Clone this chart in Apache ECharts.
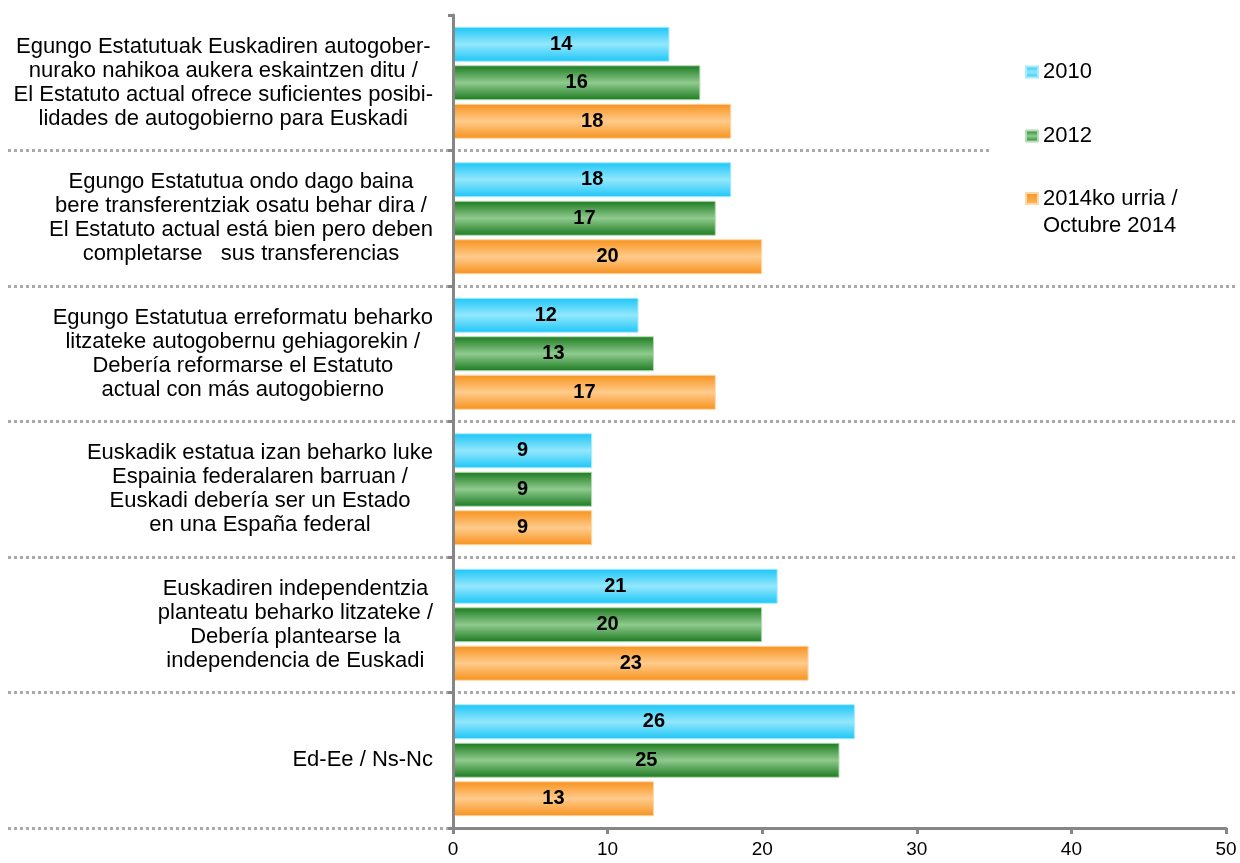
<!DOCTYPE html>
<html><head><meta charset="utf-8">
<script src="https://cdn.jsdelivr.net/npm/echarts@6/dist/echarts.min.js"></script>
<style>html,body{margin:0;padding:0;background:#fff}#c{width:1240px;height:863px}</style>
</head><body><div id="c"></div>
<script>
const categories = [
  "Egungo Estatutuak Euskadiren autogober-\nnurako nahikoa aukera eskaintzen ditu /\nEl Estatuto actual ofrece suficientes posibi-\nlidades de autogobierno para Euskadi",
  "Egungo Estatutua ondo dago baina\nbere transferentziak osatu behar dira /\nEl Estatuto actual está bien pero deben\ncompletarse   sus transferencias",
  "Egungo Estatutua erreformatu beharko\nlitzateke autogobernu gehiagorekin /\nDebería reformarse el Estatuto\nactual con más autogobierno",
  "Euskadik estatua izan beharko luke\nEspainia federalaren barruan /\nEuskadi debería ser un Estado\nen una España federal",
  "Euskadiren independentzia\nplanteatu beharko litzateke /\nDebería plantearse la\nindependencia de Euskadi",
  "Ed-Ee / Ns-Nc"
];
const seriesNames = ["2010", "2012", "2014ko urria /\nOctubre 2014"];
const values2010 = [14, 18, 12, 9, 21, 26];
const values2012 = [16, 17, 13, 9, 20, 25];
const values2014 = [18, 20, 17, 9, 23, 13];
const xMin = 0, xMax = 50, xStep = 10;

const FONT = "'Liberation Sans', Arial, sans-serif";
const AX = '#868686';
function grad(edge, mid) {
  return new echarts.graphic.LinearGradient(0, 0, 0, 1, [
    {offset: 0, color: edge}, {offset: 0.5, color: mid}, {offset: 1, color: edge}
  ]);
}
const styles = [
  {color: grad('#1cc6f7', '#93e7fd'), borderColor: '#a8ecfd'},
  {color: grad('#1b7a1f', '#8fca8e'), borderColor: '#b5dcb4'},
  {color: grad('#f7921c', '#ffcb8c'), borderColor: '#ffd7a8'}
];
const allValues = [values2010, values2012, values2014];
const dotted = {color: '#a9a9a9', width: 3, type: [3, 3]};

const chart = echarts.init(document.getElementById('c'), null, {renderer: 'canvas'});
chart.setOption({
  animation: false,
  backgroundColor: '#fff',
  textStyle: {fontFamily: FONT},
  grid: [
    {left: 453, right: 14, top: 15, bottom: 35},
    {left: 8, right: 4, top: 15, bottom: 35},
    {left: 8, right: 787, top: 15, bottom: 35}
  ],
  xAxis: [
    {
      gridIndex: 0, type: 'value', min: xMin, max: xMax, interval: xStep,
      axisLine: {show: true, lineStyle: {color: AX, width: 3}},
      axisTick: {show: true, length: 6, lineStyle: {color: AX, width: 3}},
      axisLabel: {color: '#000', fontSize: 19, fontFamily: FONT, margin: 12},
      splitLine: {show: false}
    },
    {gridIndex: 1, type: 'value', show: false, min: 0, max: 1},
    {gridIndex: 2, type: 'value', show: false, min: 0, max: 1}
  ],
  yAxis: [
    {
      gridIndex: 0, type: 'category', inverse: true, data: categories, z: 5,
      axisLine: {show: true, lineStyle: {color: AX, width: 3}},
      axisTick: {show: true, length: 5, lineStyle: {color: AX, width: 3}},
      axisLabel: {
        margin: 20, color: '#000', fontSize: 22, fontFamily: FONT, lineHeight: 24,
        formatter: v => v.split('\n').map(s => '{c|' + s + '}').join('\n'),
        rich: {c: {align: 'center', fontSize: 22, lineHeight: 24, fontFamily: FONT, color: '#000'}}
      },
      splitLine: {show: false}
    },
    {
      gridIndex: 1, type: 'value', min: 0, max: categories.length, interval: 1,
      axisLine: {show: false}, axisTick: {show: false}, axisLabel: {show: false},
      splitLine: {show: true, showMaxLine: false, showMinLine: false, lineStyle: dotted}
    },
    {
      gridIndex: 2, type: 'value', min: 0, max: 1, interval: 1,
      axisLine: {show: false}, axisTick: {show: false}, axisLabel: {show: false},
      splitLine: {show: true, showMaxLine: false, lineStyle: dotted}
    }
  ],
  legend: [
    {
      data: [seriesNames[0], seriesNames[1]], orient: 'vertical', left: 990, top: 55,
      padding: [5, 160, 8, 35], backgroundColor: '#fff', itemGap: 40,
      itemWidth: 12, itemHeight: 11, icon: 'rect',
      textStyle: {fontSize: 22, fontFamily: FONT, color: '#000', lineHeight: 24}
    },
    {
      data: [seriesNames[2]], orient: 'vertical', left: 990, top: 180,
      padding: [5, 10, 5, 35], itemWidth: 12, itemHeight: 38,
      icon: 'path://M0,0H12V11H0Z M6,38',
      textStyle: {fontSize: 22, fontFamily: FONT, color: '#000', lineHeight: 27}
    }
  ],
  series: seriesNames.map((n, i) => ({
    name: n, type: 'bar', xAxisIndex: 0, yAxisIndex: 0,
    data: allValues[i], barWidth: 35, barGap: '10%',
    itemStyle: {color: styles[i].color, borderColor: styles[i].borderColor, borderWidth: 1},
    label: {show: true, position: 'inside', color: '#000', fontWeight: 'bold', fontSize: 20, fontFamily: FONT}
  }))
});
</script></body></html>
